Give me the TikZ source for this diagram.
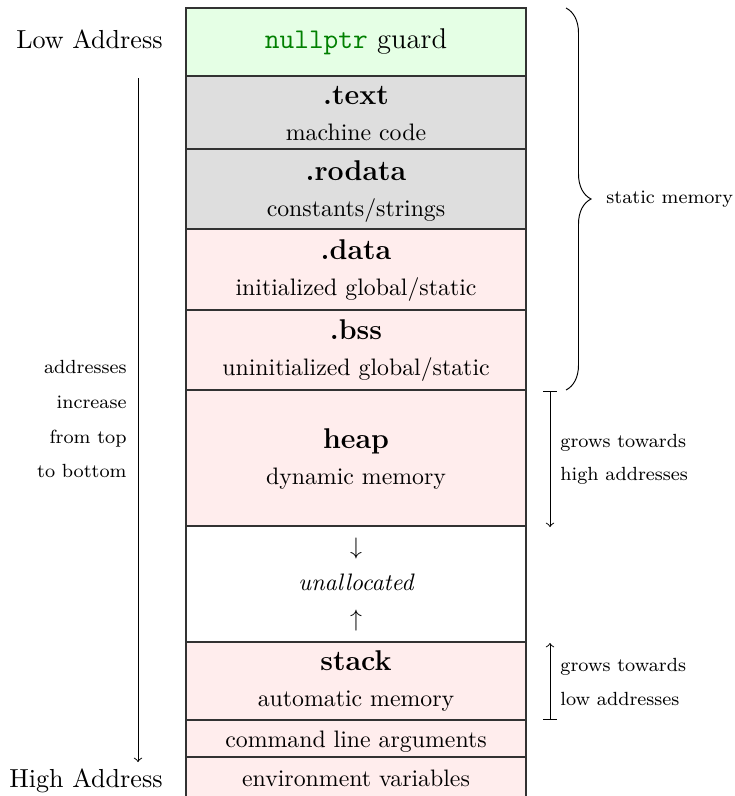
\documentclass[tikz,border=0pt]{standalone}
\usetikzlibrary{decorations.pathreplacing,fit}

\definecolor{guardfill}{RGB}{229,255,229}
\definecolor{codefill}{RGB}{222,222,222}
\definecolor{datafill}{RGB}{255,237,237}
\definecolor{edge}{RGB}{50,50,50}
\definecolor{kwgreen}{RGB}{0,128,0}

\tikzset{
  seg/.style={draw=edge, line width=0.6pt, inner sep=0pt, outer sep=0pt},
  title/.style={font=\large\bfseries, anchor=base, inner sep=0pt},
  desc/.style={font=\normalsize, anchor=base, inner sep=0pt},
  side/.style={font=\fontsize{10.95}{13}\selectfont, anchor=base east, inner sep=0pt},
  note/.style={font=\footnotesize, inner sep=0pt},
}

\begin{document}
\begin{tikzpicture}[x=0.42pt, y=-0.42pt]
\useasboundingbox (0,0) rectangle (734,796);

% memory segments, top = low addresses
\begin{scope}
\clip (0,0) rectangle (734,796);
\node[seg, fill=guardfill, fit={(186,8)(526,76)}]    (guard)  {};
\node[seg, fill=codefill,  fit={(186,76)(526,149)}]  (text)   {};
\node[seg, fill=codefill,  fit={(186,149)(526,229)}] (rodata) {};
\node[seg, fill=datafill,  fit={(186,229)(526,310)}] (data)   {};
\node[seg, fill=datafill,  fit={(186,310)(526,390)}] (bss)    {};
\node[seg, fill=datafill,  fit={(186,390)(526,526)}] (heap)   {};
\node[seg, fill=white,     fit={(186,526)(526,642)}] (free)   {};
\node[seg, fill=datafill,  fit={(186,642)(526,720)}] (stack)  {};
\node[seg, fill=datafill,  fit={(186,720)(526,757)}] (args)   {};
\node[seg, fill=datafill,  fit={(186,757)(526,812)}] (env)    {};
\end{scope}

% segment labels
\node[desc, font=\large] (guardlbl) at (356,49) {\texttt{\textcolor{kwgreen}{nullptr}} guard};
\node[title] (textt)    at (356,104) {.text};
\node[desc]  (textd)    at (356,140) {machine code};
\node[title] (rodatat)  at (356,180) {.rodata};
\node[desc]  (rodatad)  at (356,216) {constants/strings};
\node[title] (datat)    at (356,259) {.data};
\node[desc]  (datad)    at (356,295) {initialized global/static};
\node[title] (bsst)     at (356,339) {.bss};
\node[desc]  (bssd)     at (356,375) {uninitialized global/static};
\node[title] (heapt)    at (356,448) {heap};
\node[desc]  (heapd)    at (356,484) {dynamic memory};
\node[desc]  (downarr)  at (356,554) {$\downarrow$};
\node[desc]  (freed)    at (356,590) {\itshape unallocated};
\node[desc]  (uparr)    at (356,626) {$\uparrow$};
\node[title] (stackt)   at (356,670) {stack};
\node[desc]  (stackd)   at (356,706) {automatic memory};
\node[desc]  (argsd)    at (356,747) {command line arguments};
\node[desc]  (envd)     at (356,786) {environment variables};

% address direction on the left
\node[side] (low)  at (163,49)  {Low Address};
\node[side] (high) at (163,787) {High Address};
\coordinate (dirtop) at (138,78);
\coordinate (dirbot) at (138,762);
\draw[->, line width=0.4pt] (dirtop) -- (dirbot);
\node[note, anchor=base east] (d1) at (127,373) {addresses};
\node[note, anchor=base east] (d2) at (127,408) {increase};
\node[note, anchor=base east] (d3) at (127,443) {from top};
\node[note, anchor=base east] (d4) at (127,477) {to bottom};

% static memory brace
\coordinate (bracetop) at (566,8);
\coordinate (bracebot) at (566,390);
\draw[decorate, decoration={brace, amplitude=10.5pt}, line width=0.4pt]
  (bracetop) -- (bracebot);
\node[note, anchor=west] (static) at (606,199) {static memory};

% growth directions
\coordinate (heapgrowA) at (550,391);
\coordinate (heapgrowB) at (550,527);
\draw[|->, line width=0.4pt] (heapgrowA) -- (heapgrowB);
\node[note, anchor=base west] (hg1) at (560,447) {grows towards};
\node[note, anchor=base west] (hg2) at (560,480) {high addresses};

\coordinate (stackgrowA) at (550,720);
\coordinate (stackgrowB) at (550,643);
\draw[|->, line width=0.4pt] (stackgrowA) -- (stackgrowB);
\node[note, anchor=base west] (sg1) at (560,671) {grows towards};
\node[note, anchor=base west] (sg2) at (560,705) {low addresses};
\end{tikzpicture}
\end{document}
